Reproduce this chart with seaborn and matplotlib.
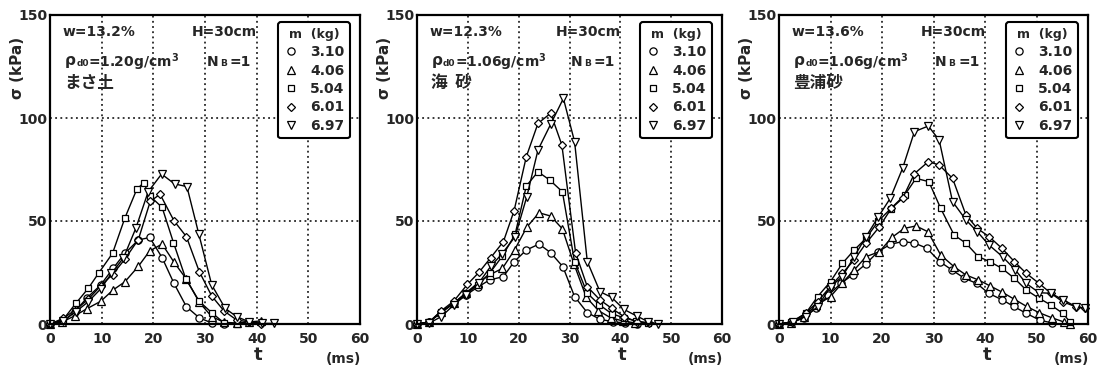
import matplotlib
matplotlib.use("Agg")
import matplotlib.pyplot as plt
import seaborn as sns
import pandas as pd
from matplotlib.lines import Line2D
from matplotlib.ticker import MultipleLocator, FixedLocator

# ---------------- data ----------------
masses = ["3.10", "4.06", "5.04", "6.01", "6.97"]
markers = ["o", "^", "s", "D", "v"]

# Panel 1: まさ土
p1_c_t = [0, 2.4, 4.8, 7.2, 9.8, 12.2, 14.5, 17.1, 19.3, 21.7, 24.0, 26.4, 28.9, 31.3, 33.7]
p1_c_s = [0, 1.0, 6.0, 12.8, 18.9, 27.0, 34.3, 40.8, 42.0, 32.2, 19.7, 8.4, 3.0, 0.5, 0]
p1_tr_t = [0, 2.4, 4.8, 7.2, 9.8, 12.2, 14.5, 17.1, 19.3, 21.7, 24.0, 26.4, 28.9, 31.3, 33.7, 36.1, 38.5, 40.9]
p1_tr_s = [0, 1.0, 4.0, 7.5, 11.0, 16.5, 20.5, 28.0, 35.5, 38.8, 30.0, 21.8, 10.5, 3.6, 0.8, 0.5, 1.0, 1.5]
p1_sq_t = [0, 2.5, 5.0, 7.4, 9.5, 12.1, 14.5, 16.8, 18.1, 19.4, 21.7, 23.9, 26.3, 28.9, 31.3, 33.7, 36.1]
p1_sq_s = [0, 2.0, 10.0, 17.3, 25.0, 34.3, 51.5, 65.4, 68.5, 62.0, 56.6, 39.5, 21.8, 11.0, 5.5, 0.5, 0]
p1_di_t = [0, 2.6, 5.0, 7.4, 9.8, 12.1, 14.5, 17.1, 19.4, 21.3, 24.0, 26.4, 28.9, 31.3, 33.7, 36.1, 38.5, 40.9]
p1_di_s = [0, 2.8, 7.0, 12.0, 18.5, 24.0, 31.5, 41.0, 59.5, 63.0, 50.1, 42.4, 25.4, 13.6, 6.3, 2.0, 1.0, 0]
p1_iv_t = [0, 2.6, 5.0, 7.4, 9.8, 11.9, 14.2, 16.6, 19.0, 21.6, 24.1, 26.5, 28.8, 31.3, 33.9, 36.1, 38.5, 41.0, 43.4]
p1_iv_s = [0, 1.6, 6.0, 10.8, 17.0, 24.6, 32.0, 46.4, 64.2, 72.8, 68.0, 66.7, 43.7, 19.0, 7.6, 3.6, 1.1, 0.3, 0.3]

# Panel 2: 海砂
p2_c_t = [0, 2.4, 4.8, 7.2, 9.6, 12.0, 14.3, 17.0, 19.1, 21.5, 24.0, 26.3, 28.7, 31.0, 33.5, 36.0, 38.5, 41.0, 43.2]
p2_c_s = [0, 1.0, 5.5, 10.0, 14.0, 18.0, 21.4, 23.0, 30.2, 35.9, 38.8, 34.6, 27.8, 13.3, 5.5, 2.3, 1.1, 0.5, 0]
p2_tr_t = [0, 2.4, 4.8, 7.2, 9.6, 12.0, 14.4, 16.8, 19.2, 21.6, 24.0, 26.3, 28.6, 30.9, 33.3, 35.7, 38.1, 40.5, 42.9]
p2_tr_s = [0, 1.0, 6.0, 10.0, 15.0, 20.0, 24.0, 27.0, 36.0, 47.0, 54.0, 52.4, 46.2, 29.0, 13.0, 6.5, 3.0, 1.5, 0.5]
p2_sq_t = [0, 2.4, 4.8, 7.2, 9.6, 12.0, 14.4, 16.8, 19.3, 21.5, 23.8, 26.1, 28.6, 31.0, 33.5, 35.9, 38.3, 40.7, 43.1, 45.5]
p2_sq_s = [0, 1.0, 6.0, 10.0, 15.0, 19.0, 25.0, 33.0, 43.5, 67.0, 73.9, 69.9, 64.2, 30.2, 14.9, 9.3, 5.0, 3.0, 1.5, 0.5]
p2_di_t = [0, 2.4, 4.8, 7.2, 9.9, 12.2, 14.5, 17.0, 19.1, 21.5, 23.8, 26.3, 28.5, 31.2, 33.5, 36.0, 38.3, 40.7, 43.2, 45.6]
p2_di_s = [0, 1.0, 6.5, 11.0, 19.2, 25.1, 32.2, 40.0, 55.0, 81.2, 97.4, 102.3, 86.9, 34.6, 18.1, 11.7, 7.6, 3.6, 1.1, 0.5]
p2_iv_t = [0, 2.3, 4.8, 7.2, 9.6, 12.1, 14.5, 16.7, 19.3, 21.6, 23.8, 26.3, 28.8, 31.0, 33.5, 36.0, 38.3, 40.7, 43.2, 45.5, 47.5]
p2_iv_s = [0, 0.3, 3.6, 9.2, 14.0, 19.7, 28.0, 34.0, 42.4, 61.8, 84.5, 97.0, 109.5, 88.5, 30.3, 15.7, 12.9, 7.1, 3.9, 1.1, 0]

# Panel 3: 豊浦砂
p3_c_t = [0, 2.4, 4.8, 7.2, 9.6, 12.0, 14.4, 16.8, 19.2, 21.6, 24.0, 26.3, 28.7, 31.2, 33.6, 36.0, 38.4, 40.7, 43.3, 45.6, 48.0, 50.6, 53.0]
p3_c_s = [0, 0.5, 3.0, 8.0, 14.0, 19.7, 24.0, 29.0, 35.0, 38.7, 40.0, 39.3, 36.8, 30.3, 26.2, 22.2, 19.7, 14.9, 11.8, 8.5, 5.2, 1.9, 0.5]
p3_tr_t = [0, 2.4, 4.8, 7.2, 10.0, 12.3, 14.6, 16.9, 19.5, 21.9, 24.3, 26.6, 28.9, 31.4, 34.0, 36.3, 38.7, 40.9, 43.3, 45.7, 48.1, 50.5, 53.0, 55.3, 56.5]
p3_tr_s = [0, 0.5, 3.5, 9.0, 13.3, 20.0, 26.2, 32.7, 35.1, 42.0, 46.4, 47.6, 44.8, 33.5, 27.8, 23.8, 21.4, 18.6, 15.5, 12.0, 8.5, 5.5, 3.0, 1.0, 0]
p3_sq_t = [0, 2.4, 5.2, 7.5, 10.0, 12.3, 14.6, 16.9, 19.3, 21.7, 24.4, 26.6, 29.1, 31.4, 34.0, 36.3, 38.7, 40.9, 43.3, 45.7, 48.0, 50.5, 52.8, 55.1, 56.5]
p3_sq_s = [0, 1.0, 5.2, 13.3, 20.6, 29.4, 35.9, 41.6, 50.0, 56.0, 62.6, 70.7, 69.1, 56.1, 43.2, 39.2, 32.7, 30.3, 27.0, 22.2, 16.5, 12.5, 9.2, 5.2, 1.0]
p3_di_t = [0, 2.6, 5.2, 7.5, 9.9, 12.3, 14.6, 16.9, 19.5, 21.8, 24.0, 26.3, 29.0, 31.1, 33.7, 36.3, 38.5, 40.8, 43.3, 45.7, 48.0, 50.5, 52.8, 55.1, 57.6, 59.5]
p3_di_s = [0, 1.0, 5.2, 10.8, 18.0, 24.6, 31.1, 39.2, 47.2, 56.1, 61.0, 73.0, 78.8, 77.2, 70.7, 52.9, 46.4, 42.4, 36.7, 30.3, 24.6, 19.7, 14.9, 10.8, 8.4, 7.6]
p3_iv_t = [0, 2.7, 5.2, 7.5, 10.0, 12.3, 14.6, 16.9, 19.3, 21.6, 24.0, 26.3, 29.0, 31.1, 33.7, 36.3, 38.5, 40.8, 43.4, 45.9, 48.0, 50.5, 52.8, 55.2, 57.7, 59.5]
p3_iv_s = [0, 1.1, 3.6, 8.4, 18.1, 23.0, 32.7, 42.4, 52.1, 61.0, 75.6, 93.4, 96.1, 89.3, 59.4, 50.5, 44.8, 38.3, 32.7, 26.2, 19.7, 15.2, 14.9, 11.7, 8.4, 7.6]

panels = [
    dict(series=[(p1_c_t, p1_c_s), (p1_tr_t, p1_tr_s), (p1_sq_t, p1_sq_s), (p1_di_t, p1_di_s), (p1_iv_t, p1_iv_s)],
         w="w=13.2%", rho=r"=1.20g/cm$^{\mathbf{3}}$", soil="まさ土"),
    dict(series=[(p2_c_t, p2_c_s), (p2_tr_t, p2_tr_s), (p2_sq_t, p2_sq_s), (p2_di_t, p2_di_s), (p2_iv_t, p2_iv_s)],
         w="w=12.3%", rho=r"=1.06g/cm$^{\mathbf{3}}$", soil="海  砂"),
    dict(series=[(p3_c_t, p3_c_s), (p3_tr_t, p3_tr_s), (p3_sq_t, p3_sq_s), (p3_di_t, p3_di_s), (p3_iv_t, p3_iv_s)],
         w="w=13.6%", rho=r"=1.06g/cm$^{\mathbf{3}}$", soil="豊浦砂"),
]

# ---------------- style ----------------
sns.set_style("white")
plt.rcParams["font.family"] = ["DejaVu Sans", "Noto Sans CJK JP"]
plt.rcParams["font.weight"] = "bold"
plt.rcParams["mathtext.default"] = "bf"

fig = plt.figure(figsize=(11.07, 3.75), dpi=100)
rects = [
    [50 / 1107, 51 / 375, 310 / 1107, 309 / 375],
    [417 / 1107, 51 / 375, 305 / 1107, 309 / 375],
    [779 / 1107, 51 / 375, 309 / 1107, 309 / 375],
]
msizes = [5.2, 5.2, 4.6, 4.2, 5.4]

for rect, pan in zip(rects, panels):
    ax = fig.add_axes(rect)
    for (t, s), mk, ms in zip(pan["series"], markers, msizes):
        df = pd.DataFrame({"t": t, "s": s})
        sns.lineplot(data=df, x="t", y="s", ax=ax, color="black", linewidth=1.0,
                     marker=mk, markersize=ms, markerfacecolor="white",
                     markeredgecolor="black", markeredgewidth=0.9,
                     estimator=None, sort=False, legend=False, clip_on=False)
    ax.set_xlim(0, 60)
    ax.set_ylim(0, 150)
    ax.xaxis.set_major_locator(MultipleLocator(10))
    ax.yaxis.set_major_locator(FixedLocator([0, 50, 100, 150]))
    ax.yaxis.set_minor_locator(FixedLocator([25, 75, 125]))
    ax.tick_params(axis="both", which="both", direction="in", length=7, width=1.8,
                   labelsize=10, color="black")
    ax.tick_params(axis="x", pad=6)
    ax.tick_params(axis="y", pad=2)
    for lab in ax.get_xticklabels() + ax.get_yticklabels():
        lab.set_fontweight("bold")
    for sp in ax.spines.values():
        sp.set_linewidth(1.6)
        sp.set_color("black")
    for gx in [10, 20, 30, 40, 50]:
        ax.axvline(gx, color="black", lw=1.1, ls=(0, (1.2, 2.2)), zorder=0.5)
    for gy in [50, 100]:
        ax.axhline(gy, color="black", lw=1.1, ls=(0, (1.2, 2.2)), zorder=0.5)
    ax.set_xlabel("")
    ax.set_ylabel("")

    # annotations
    ax.text(0.04, 0.945, pan["w"], transform=ax.transAxes, fontsize=10, fontweight="bold",
            ha="left", va="center")
    ax.text(0.668, 0.945, "H=30cm", transform=ax.transAxes, fontsize=10, fontweight="bold",
            ha="right", va="center")
    ax.text(0.045, 0.848, r"$\rho$", transform=ax.transAxes, fontsize=11,
            ha="left", va="center", style="italic")
    ax.text(0.085, 0.843, "d0", transform=ax.transAxes, fontsize=6.5, fontweight="bold",
            ha="left", va="center")
    ax.text(0.124, 0.848, pan["rho"], transform=ax.transAxes, fontsize=10, fontweight="bold",
            ha="left", va="center")
    ax.text(0.505, 0.848, "N", transform=ax.transAxes, fontsize=10, fontweight="bold",
            ha="left", va="center")
    ax.text(0.548, 0.843, "B", transform=ax.transAxes, fontsize=6.5, fontweight="bold",
            ha="left", va="center")
    ax.text(0.58, 0.848, "=1", transform=ax.transAxes, fontsize=10, fontweight="bold",
            ha="left", va="center")
    ax.text(0.045, 0.78, pan["soil"], transform=ax.transAxes, fontsize=12,
            family=["Noto Sans CJK JP"], fontweight="bold", ha="left", va="center")

    ax.text(-0.105, 0.83, "σ (kPa)", transform=ax.transAxes, rotation=90, fontsize=11,
            fontweight="bold", ha="center", va="center")
    ax.text(0.672, -0.10, "t", transform=ax.transAxes, fontsize=13, fontweight="bold",
            ha="center", va="center")
    ax.text(0.945, -0.112, "(ms)", transform=ax.transAxes, fontsize=10, fontweight="bold",
            ha="center", va="center")

    handles = [Line2D([], [], ls="none", marker=mk, markersize=ms, markerfacecolor="white",
                      markeredgecolor="black", markeredgewidth=0.9, color="black")
               for mk, ms in zip(markers, msizes)]
    leg = ax.legend(handles, masses, title="m  (kg)", loc="upper right",
                    bbox_to_anchor=(0.968, 0.977), borderaxespad=0, frameon=True,
                    fancybox=True, framealpha=1, edgecolor="black", fontsize=10,
                    title_fontsize=9, handlelength=1.0, handletextpad=0.9,
                    labelspacing=0.32, borderpad=0.4)
    leg.get_frame().set_linewidth(1.5)
    leg.get_title().set_fontweight("bold")
    for txt in leg.get_texts():
        txt.set_fontweight("bold")

fig.savefig("out.png", dpi=100)
